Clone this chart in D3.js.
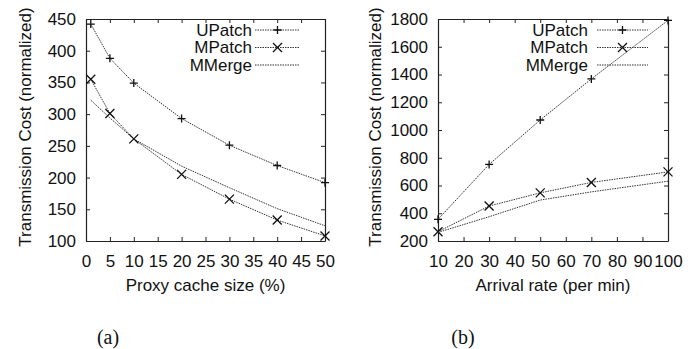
<!DOCTYPE html>
<html>
<head>
<meta charset="utf-8">
<script src="https://cdn.jsdelivr.net/npm/d3@7"></script>
<style>
  body { margin: 0; background: #fff; }
  svg text { font-family: "Liberation Sans", Arial, sans-serif; fill: #111; }
  .domain { stroke: #222; }
  .tick line { stroke: #222; }
</style>
</head>
<body>
<div id="chart"></div>
<script>
// Panel (a): proxy cache size
var cacheSizes = [1, 5, 10, 20, 30, 40, 50];
var cacheUPatch = [442, 388, 349, 293, 251, 219, 192];
var cacheMPatch = [355, 301, 261, 205, 166, 133, 108];
var cacheMMerge = [322, 294, 261, 218, 184, 151, 124];
var cacheXTicks = [0, 5, 10, 15, 20, 25, 30, 35, 40, 45, 50];
var cacheYTicks = [100, 150, 200, 250, 300, 350, 400, 450];

// Panel (b): arrival rate
var arrivalRates = [10, 30, 50, 70, 100];
var rateUPatch = [356, 752, 1072, 1368, 1790];
var rateMPatch = [267, 452, 547, 622, 698];
var rateMMerge = [262, 375, 495, 554, 631];
var rateXTicks = [10, 20, 30, 40, 50, 60, 70, 80, 90, 100];
var rateYTicks = [200, 400, 600, 800, 1000, 1200, 1400, 1600, 1800];

var seriesNames = ['UPatch', 'MPatch', 'MMerge'];
var markers = ['plus', 'cross', 'none'];

var width = 696, height = 349;

var svg = d3.select('#chart').append('svg')
    .attr('width', width)
    .attr('height', height);

drawPanel({
  left: 86, right: 325, top: 19, bottom: 241,
  xDomain: [0, 50], yDomain: [100, 450],
  xTicks: cacheXTicks, yTicks: cacheYTicks,
  xs: cacheSizes, series: [cacheUPatch, cacheMPatch, cacheMMerge],
  xLabel: 'Proxy cache size (%)', yLabelX: 25,
  legendTextX: 252, legendLine: [255, 300],
  caption: '(a)', captionX: 108
});

drawPanel({
  left: 438, right: 668, top: 19, bottom: 241,
  xDomain: [10, 100], yDomain: [200, 1800],
  xTicks: rateXTicks, yTicks: rateYTicks,
  xs: arrivalRates, series: [rateUPatch, rateMPatch, rateMMerge],
  xLabel: 'Arrival rate (per min)', yLabelX: 375,
  legendTextX: 588, legendLine: [597, 648],
  caption: '(b)', captionX: 463
});

function drawPanel(cfg) {
  var x = d3.scaleLinear().domain(cfg.xDomain).range([cfg.left, cfg.right]);
  var y = d3.scaleLinear().domain(cfg.yDomain).range([cfg.bottom, cfg.top]);
  var g = svg.append('g');
  var fmt = d3.format('d');

  // axes with inward ticks, mirrored on top and right
  g.append('g')
    .attr('transform', 'translate(0,' + cfg.bottom + ')')
    .call(d3.axisBottom(x).tickValues(cfg.xTicks).tickFormat(fmt).tickSize(-4).tickPadding(14).tickSizeOuter(0))
    .call(function(a) { a.selectAll('text').attr('font-size', '17px').attr('fill', '#111'); });

  g.append('g')
    .attr('transform', 'translate(0,' + cfg.top + ')')
    .call(d3.axisTop(x).tickValues(cfg.xTicks).tickSize(-4).tickFormat('').tickSizeOuter(0));

  g.append('g')
    .attr('transform', 'translate(' + cfg.left + ',0)')
    .call(d3.axisLeft(y).tickValues(cfg.yTicks).tickFormat(fmt).tickSize(-4).tickPadding(10).tickSizeOuter(0))
    .call(function(a) { a.selectAll('text').attr('font-size', '17px').attr('fill', '#111'); });

  g.append('g')
    .attr('transform', 'translate(' + cfg.right + ',0)')
    .call(d3.axisRight(y).tickValues(cfg.yTicks).tickSize(-4).tickFormat('').tickSizeOuter(0));

  g.selectAll('.domain').attr('stroke-width', 1.2);

  // axis labels
  g.append('text')
    .attr('x', (cfg.left + cfg.right) / 2)
    .attr('y', 291)
    .attr('text-anchor', 'middle')
    .attr('font-size', '17px')
    .text(cfg.xLabel);

  g.append('text')
    .attr('transform', 'translate(' + cfg.yLabelX + ',' + ((cfg.top + cfg.bottom) / 2 - 3) + ') rotate(-90)')
    .attr('dy', '0.35em')
    .attr('text-anchor', 'middle')
    .attr('font-size', '17px')
    .text('Transmission Cost (normalized)');

  // caption
  g.append('text')
    .attr('x', cfg.captionX)
    .attr('y', 344)
    .attr('text-anchor', 'middle')
    .attr('font-size', '20px')
    .style('font-family', '"Liberation Serif", "Times New Roman", serif')
    .text(cfg.caption);

  var line = d3.line()
    .x(function(d) { return x(d[0]); })
    .y(function(d) { return y(d[1]); });

  cfg.series.forEach(function(vals, i) {
    var pts = cfg.xs.map(function(v, j) { return [v, vals[j]]; });
    g.append('path')
      .datum(pts)
      .attr('fill', 'none')
      .attr('stroke', '#333')
      .attr('stroke-width', 1)
      .attr('stroke-dasharray', '1.5,1')
      .attr('d', line);

    pts.forEach(function(p) {
      drawMarker(g, markers[i], x(p[0]), y(p[1]));
    });

    // legend row
    var ly = 30 + i * 17.5;
    g.append('text')
      .attr('x', cfg.legendTextX)
      .attr('y', ly)
      .attr('dy', '0.35em')
      .attr('text-anchor', 'end')
      .attr('font-size', '17px')
      .text(seriesNames[i]);
    g.append('line')
      .attr('x1', cfg.legendLine[0]).attr('x2', cfg.legendLine[1])
      .attr('y1', ly).attr('y2', ly)
      .attr('stroke', '#333')
      .attr('stroke-width', 1)
      .attr('stroke-dasharray', '1.5,1');
    drawMarker(g, markers[i], (cfg.legendLine[0] + cfg.legendLine[1]) / 2, ly);
  });
}

function drawMarker(g, type, cx, cy) {
  var s = 4;
  if (type === 'plus') {
    g.append('path')
      .attr('d', 'M' + (cx - s) + ',' + cy + 'H' + (cx + s) + 'M' + cx + ',' + (cy - s) + 'V' + (cy + s))
      .attr('stroke', '#111').attr('stroke-width', 1.3).attr('fill', 'none');
  } else if (type === 'cross') {
    var c = 4.5;
    g.append('path')
      .attr('d', 'M' + (cx - c) + ',' + (cy - c) + 'L' + (cx + c) + ',' + (cy + c) +
                 'M' + (cx - c) + ',' + (cy + c) + 'L' + (cx + c) + ',' + (cy - c))
      .attr('stroke', '#111').attr('stroke-width', 1.3).attr('fill', 'none');
  }
}
</script>
</body>
</html>
